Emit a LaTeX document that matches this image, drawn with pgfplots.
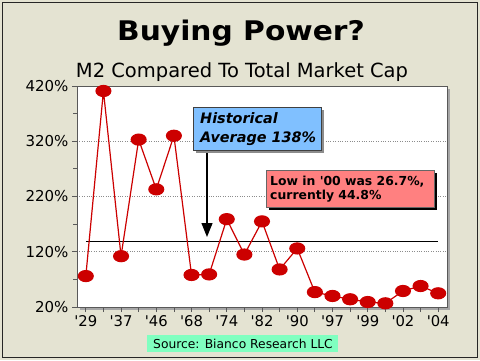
\documentclass[border=0pt]{standalone}
\usepackage{fontspec}
\setmainfont{DejaVu Sans}
\usepackage{pgfplots}
\pgfplotsset{compat=1.18}
\usetikzlibrary{arrows.meta}
\definecolor{bg}{RGB}{228,227,210}
\definecolor{dred}{RGB}{204,0,0}
\definecolor{hblue}{RGB}{128,192,255}
\definecolor{lpink}{RGB}{255,128,128}
\definecolor{smint}{RGB}{128,255,192}
\newcommand{\q}{\textquotesingle}
\begin{document}
\begin{tikzpicture}[x=1bp,y=1bp]
\fill[bg] (0,0) rectangle (480,-360);
\draw[black!85, line width=1.5bp] (2.5,-2.5) rectangle (477.5,-357.5);
\node[anchor=base, inner sep=0pt, font=\fontsize{27bp}{30bp}\selectfont\bfseries, xscale=1.1] at (241,-40) {Buying Power?};
\node[anchor=base, inner sep=0pt, font=\fontsize{19.5bp}{22bp}\selectfont] at (242,-77) {M2 Compared To Total Market Cap};
\fill[black!35] (80,-89) rectangle (450,-310);
\begin{axis}[
  at={(77bp,-307bp)}, anchor=south west,
  scale only axis, width=370bp, height=221bp,
  xmin=-0.5, xmax=20.5, ymin=20, ymax=420,
  axis background/.style={fill=white},
  axis line style={black!65},
  clip=false,
  ytick={20,120,220,320,420},
  minor ytick={70,170,270,370},
  yticklabel={\pgfmathprintnumber{\tick}\%},
  xtick={0,...,20},
  xticklabels={\q29,,\q37,,\q46,,\q68,,\q74,,\q82,,\q90,,\q97,,\q99,,\q02,,\q04},
  tick align=outside,
  xtick pos=bottom, ytick pos=left,
  major x tick style={black!65, line width=0.8bp},
  major y tick style={black!65, line width=0.8bp},
  minor y tick style={black!65, line width=0.8bp},
  major tick length=5bp, minor tick length=4bp,
  ymajorgrids,
  major grid style={black!45, dotted, line width=0.6bp},
  yticklabel style={font=\fontsize{15bp}{18bp}\selectfont},
  xticklabel style={font=\fontsize{14.8bp}{17bp}\selectfont},
  /pgf/number format/assume math mode=true,
]
\addplot[black, line width=0.9bp, forget plot] coordinates {(0,138) (20,138)};
\addplot[dred, line width=1.2bp, mark=*, mark size=5.5bp, mark options={xscale=1.35, fill=dred, draw=dred}] coordinates {
(0,76) (1,411) (2,112) (3,323) (4,233) (5,330) (6,78) (7,79) (8,179) (9,115)
(10,175) (11,88) (12,126) (13,47) (14,40) (15,34) (16,29) (17,26.7) (18,49) (19,58) (20,44.8)};
\end{axis}
% Historical average annotation
\draw[black, line width=1.2bp, -{Triangle[width=11bp,length=14bp]}] (207,-150) -- (207,-237);
\fill[black!45] (196,-110) rectangle (324,-153);
\fill[hblue] (193,-107) rectangle (321,-150);
\draw[black!75, line width=0.8bp] (193,-107) rectangle (321,-150);
\node[anchor=base west, inner sep=0pt, font=\fontsize{14.4bp}{17bp}\selectfont\bfseries\itshape] at (200,-123) {Historical};
\node[anchor=base west, inner sep=0pt, font=\fontsize{14.4bp}{17bp}\selectfont\bfseries\itshape] at (200,-142.5) {Average 138\%};
% Low annotation
\fill[black] (269,-173) rectangle (437,-210);
\fill[lpink] (266,-170) rectangle (434,-207);
\draw[black!60, line width=0.6bp] (266,-170) rectangle (434,-207);
\node[anchor=base west, inner sep=0pt, font=\fontsize{12.4bp}{15bp}\selectfont\bfseries] at (270,-185) {Low in \q00 was 26.7\%,};
\node[anchor=base west, inner sep=0pt, font=\fontsize{12.4bp}{15bp}\selectfont\bfseries] at (270,-199) {currently 44.8\%};
% Source
\fill[smint] (147,-335) rectangle (338,-352);
\node[anchor=base west, inner sep=0pt, font=\fontsize{12.3bp}{15bp}\selectfont] at (153,-348) {Source: Bianco Research LLC};
\end{tikzpicture}
\end{document}
